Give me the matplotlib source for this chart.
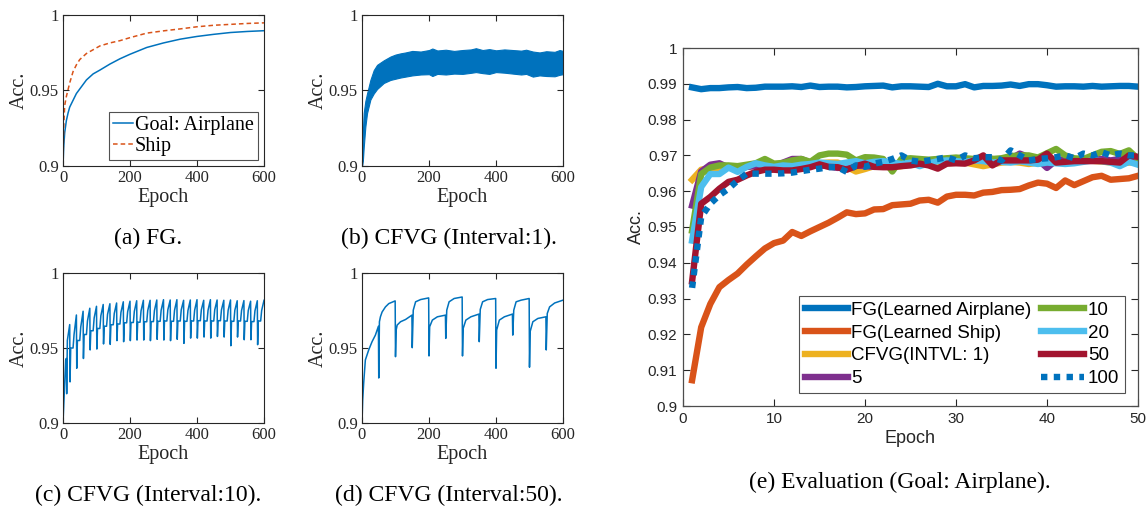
import matplotlib
matplotlib.use("Agg")
import matplotlib.pyplot as plt

# ---------------- data ----------------
# (a) FG: accuracy for goal airplane / ship
a_epoch = [0, 2, 5, 10, 15, 20, 30, 40, 50, 70, 90, 110, 140, 170, 200, 250, 300, 350, 400, 450, 500, 550, 600]
a_airplane = [0.900, 0.912, 0.922, 0.930, 0.935, 0.939, 0.9435, 0.948, 0.951, 0.957, 0.961, 0.9635, 0.9675,
              0.971, 0.974, 0.9785, 0.9815, 0.984, 0.9858, 0.9872, 0.9884, 0.9891, 0.9896]
a_ship = [0.900, 0.925, 0.940, 0.946, 0.9505, 0.955, 0.9625, 0.967, 0.9705, 0.9745, 0.977, 0.9795, 0.9815,
          0.983, 0.985, 0.988, 0.9895, 0.9908, 0.9922, 0.9932, 0.9938, 0.9944, 0.9948]

# (b) CFVG interval 1: upper / lower envelope of the noisy band
b_epoch = [0, 3, 5, 10, 15, 25, 35, 45, 65, 85, 100, 115, 130, 150, 175, 200, 210, 225, 250, 275,
           300, 325, 340, 360, 380, 400, 425, 450, 475, 490, 510, 530, 550, 575, 590, 600]
b_upper = [0.900, 0.925, 0.935, 0.943, 0.948, 0.957, 0.9635, 0.967, 0.970, 0.9725, 0.9738, 0.9746,
           0.9752, 0.9762, 0.9758, 0.9768, 0.9778, 0.9765, 0.9770, 0.9762, 0.9768, 0.9772, 0.9780,
           0.9768, 0.9774, 0.9766, 0.9772, 0.9768, 0.9764, 0.9770, 0.9758, 0.9752, 0.9760, 0.9756,
           0.9768, 0.9762]
b_lower = [0.900, 0.905, 0.912, 0.926, 0.935, 0.944, 0.948, 0.951, 0.955, 0.957, 0.9578, 0.9586,
           0.9592, 0.9600, 0.9606, 0.9608, 0.9596, 0.9610, 0.9606, 0.9612, 0.9610, 0.9617, 0.9622,
           0.9615, 0.9610, 0.9622, 0.9618, 0.9612, 0.9606, 0.9610, 0.9592, 0.9600, 0.9596, 0.9594,
           0.9604, 0.9608]

# (c) CFVG interval 10: first epochs, then per 20-epoch cycle values
c_start_epoch = [0, 8, 10, 11, 13]
c_start_acc = [0.900, 0.942, 0.943, 0.9195, 0.955]
c_peak = [0.9656, 0.9720, 0.9745, 0.9765, 0.9778, 0.9790, 0.9795, 0.9800, 0.9808, 0.9812,
          0.9815, 0.9818, 0.9818, 0.9820, 0.9822, 0.9820, 0.9822, 0.9818, 0.9820, 0.9822,
          0.9818, 0.9822, 0.9820, 0.9818, 0.9820, 0.9815, 0.9816, 0.9812, 0.9815, 0.9818]
c_dip = [0.9274, 0.9365, 0.9430, 0.9487, 0.9493, 0.9527, 0.9524, 0.9549, 0.9542, 0.9549,
         0.9553, 0.9553, 0.9549, 0.9558, 0.9553, 0.9549, 0.9558, 0.9531, 0.9566, 0.9566,
         0.9573, 0.9566, 0.9577, 0.9573, 0.9515, 0.9573, 0.9555, 0.9555, 0.9522]
c_plat = [0.9500, 0.9550, 0.9590, 0.9615, 0.9630, 0.9645, 0.9655, 0.9660, 0.9668, 0.9670,
          0.9672, 0.9675, 0.9676, 0.9678, 0.9680, 0.9678, 0.9680, 0.9678, 0.9680, 0.9682,
          0.9680, 0.9680, 0.9682, 0.9680, 0.9678, 0.9680, 0.9678, 0.9676, 0.9680]
c_rise = [0.9590, 0.9640, 0.9680, 0.9700, 0.9715, 0.9725, 0.9730, 0.9738, 0.9742, 0.9745,
          0.9748, 0.9750, 0.9750, 0.9752, 0.9755, 0.9752, 0.9755, 0.9750, 0.9752, 0.9755,
          0.9752, 0.9755, 0.9754, 0.9752, 0.9752, 0.9750, 0.9750, 0.9748, 0.9750]

# (d) CFVG interval 50: key points
d_epoch = [0, 2, 5, 10, 20, 30, 40, 49, 50, 52, 55, 60, 70, 80, 99, 100, 102, 105, 115, 130, 149,
           150, 153, 160, 175, 199, 200, 202, 210, 225, 249, 250, 253, 260, 275, 299, 300, 302, 310,
           325, 349, 350, 353, 360, 375, 399, 400, 402, 410, 425, 449, 450, 453, 460, 475, 499, 500,
           502, 510, 525, 549, 550, 553, 560, 575, 600]
d_acc = [0.900, 0.915, 0.9265, 0.942, 0.9487, 0.9542, 0.9586, 0.9645, 0.930, 0.9675, 0.9708, 0.974,
         0.9774, 0.9796, 0.9814, 0.9442, 0.962, 0.9653, 0.9675, 0.969, 0.9719, 0.9502, 0.9752, 0.9808,
         0.9823, 0.9834, 0.9447, 0.9642, 0.9686, 0.9708, 0.9719, 0.9564, 0.9752, 0.9808, 0.983, 0.984,
         0.9447, 0.963, 0.9686, 0.9708, 0.9726, 0.9542, 0.9757, 0.9808, 0.9823, 0.983, 0.9365, 0.962,
         0.9686, 0.9708, 0.9726, 0.9586, 0.9752, 0.9808, 0.9819, 0.983, 0.9372, 0.961, 0.9675, 0.9697,
         0.9708, 0.9487, 0.973, 0.9774, 0.980, 0.9819]

# (e) evaluation, epochs 1..50
e_epoch = list(range(1, 51))
e_fg_airplane = [0.9890, 0.9885, 0.9888, 0.9888, 0.9890, 0.9891, 0.9888, 0.9889, 0.9892, 0.9892,
                 0.9892, 0.9893, 0.9891, 0.9895, 0.9891, 0.9892, 0.9892, 0.9890, 0.9891, 0.9893,
                 0.9894, 0.9895, 0.9890, 0.9893, 0.9893, 0.9892, 0.9891, 0.9900, 0.9893, 0.9893,
                 0.9899, 0.9890, 0.9894, 0.9894, 0.9895, 0.9898, 0.9894, 0.9899, 0.9899, 0.9896,
                 0.9892, 0.9893, 0.9893, 0.9892, 0.9894, 0.9892, 0.9893, 0.9894, 0.9894, 0.9892]
e_fg_ship = [0.9072, 0.9220, 0.9285, 0.9332, 0.9352, 0.9370, 0.9395, 0.9418, 0.9440, 0.9455,
             0.9462, 0.9486, 0.9475, 0.9488, 0.9500, 0.9512, 0.9526, 0.9541, 0.9536, 0.9538,
             0.9549, 0.9550, 0.9561, 0.9563, 0.9565, 0.9574, 0.9576, 0.9568, 0.9585, 0.9590,
             0.9590, 0.9588, 0.9596, 0.9598, 0.9603, 0.9604, 0.9606, 0.9616, 0.9624, 0.9621,
             0.9609, 0.9630, 0.9617, 0.9628, 0.9639, 0.9643, 0.9632, 0.9634, 0.9636, 0.9643]
e_int1 = [0.9632, 0.9660, 0.9665, 0.9665, 0.9668, 0.9665, 0.9668, 0.9672, 0.9672, 0.9668,
          0.9672, 0.9675, 0.9675, 0.9678, 0.9678, 0.9680, 0.9680, 0.9668, 0.9655, 0.9662,
          0.9670, 0.9672, 0.9668, 0.9670, 0.9675, 0.9676, 0.9678, 0.9675, 0.9678, 0.9680,
          0.9680, 0.9675, 0.9670, 0.9675, 0.9680, 0.9682, 0.9680, 0.9676, 0.9680, 0.9683,
          0.9680, 0.9682, 0.9683, 0.9685, 0.9685, 0.9683, 0.9680, 0.9678, 0.9680, 0.9682]
e_int5 = [0.9560, 0.9655, 0.9674, 0.9678, 0.9666, 0.9664, 0.9668, 0.9670, 0.9672, 0.9670,
          0.9680, 0.9690, 0.9690, 0.9680, 0.9672, 0.9670, 0.9665, 0.9668, 0.9672, 0.9670,
          0.9668, 0.9672, 0.9676, 0.9678, 0.9680, 0.9684, 0.9686, 0.9688, 0.9690, 0.9686,
          0.9684, 0.9690, 0.9695, 0.9690, 0.9686, 0.9690, 0.9705, 0.9695, 0.9688, 0.9665,
          0.9686, 0.9690, 0.9686, 0.9684, 0.9688, 0.9690, 0.9686, 0.9690, 0.9694, 0.9690]
e_int10 = [0.9490, 0.9648, 0.9666, 0.9672, 0.9672, 0.9670, 0.9674, 0.9678, 0.9690, 0.9677,
           0.9679, 0.9686, 0.9690, 0.9682, 0.9700, 0.9705, 0.9705, 0.9702, 0.9686, 0.9695,
           0.9694, 0.9690, 0.9655, 0.9690, 0.9692, 0.9690, 0.9688, 0.9690, 0.9692, 0.9694,
           0.9692, 0.9690, 0.9694, 0.9690, 0.9692, 0.9698, 0.9700, 0.9700, 0.9694, 0.9706,
           0.9718, 0.9700, 0.9692, 0.9690, 0.9700, 0.9710, 0.9712, 0.9704, 0.9714, 0.9690]
e_int20 = [0.9462, 0.9612, 0.9648, 0.9648, 0.9666, 0.9654, 0.9668, 0.9678, 0.9672, 0.9668,
           0.9672, 0.9670, 0.9674, 0.9676, 0.9680, 0.9678, 0.9676, 0.9680, 0.9684, 0.9678,
           0.9682, 0.9684, 0.9680, 0.9676, 0.9680, 0.9670, 0.9678, 0.9684, 0.9686, 0.9684,
           0.9682, 0.9686, 0.9684, 0.9680, 0.9682, 0.9680, 0.9684, 0.9680, 0.9676, 0.9680,
           0.9678, 0.9676, 0.9678, 0.9682, 0.9686, 0.9684, 0.9680, 0.9670, 0.9682, 0.9674]
e_int50 = [0.9348, 0.9565, 0.9584, 0.9607, 0.9626, 0.9632, 0.9644, 0.9654, 0.9660, 0.9660,
           0.9658, 0.9658, 0.9662, 0.9667, 0.9675, 0.9668, 0.9667, 0.9660, 0.9670, 0.9677,
           0.9668, 0.9667, 0.9667, 0.9670, 0.9672, 0.9677, 0.9672, 0.9663, 0.9677, 0.9678,
           0.9677, 0.9686, 0.9700, 0.9672, 0.9686, 0.9686, 0.9686, 0.9686, 0.9688, 0.9705,
           0.9680, 0.9682, 0.9684, 0.9684, 0.9684, 0.9684, 0.9682, 0.9680, 0.9700, 0.9696]
e_int100 = [0.9330, 0.9528, 0.9565, 0.9589, 0.9607, 0.9630, 0.9649, 0.9649, 0.9649, 0.9649,
            0.9650, 0.9652, 0.9656, 0.9660, 0.9663, 0.9667, 0.9667, 0.9654, 0.9672, 0.9668,
            0.9677, 0.9682, 0.9690, 0.9700, 0.9686, 0.9682, 0.9686, 0.9690, 0.9695, 0.9686,
            0.9700, 0.9692, 0.9695, 0.9695, 0.9686, 0.9714, 0.9700, 0.9686, 0.9690, 0.9692,
            0.9695, 0.9700, 0.9692, 0.9705, 0.9700, 0.9709, 0.9700, 0.9705, 0.9700, 0.9700]

# ---------------- style ----------------
BLUE = "#0072BD"
ORANGE = "#D95319"
YELLOW = "#EDB120"
PURPLE = "#7E2F8E"
GREEN = "#77AC30"
LBLUE = "#4DBEEE"
DRED = "#A2142F"
SERIF = ["Liberation Serif", "DejaVu Serif"]
SANS = ["Liberation Sans", "DejaVu Sans"]

fig = plt.figure(figsize=(11.47, 5.14), dpi=100)
W, H = 1147.0, 514.0


def box(x0, y0, x1, y1):
    return [x0 / W, 1 - y1 / H, (x1 - x0) / W, (y1 - y0) / H]


def small_axes(rect):
    ax = fig.add_axes(rect)
    ax.set_xlim(0, 600)
    ax.set_ylim(0.9, 1.0)
    ax.set_xticks([0, 200, 400, 600])
    ax.set_yticks([0.9, 0.95, 1.0])
    ax.set_yticklabels(["0.9", "0.95", "1"])
    ax.tick_params(direction="in", top=True, right=True, length=4, width=0.8,
                   labelsize=12, colors="#262626", pad=3)
    for lab in ax.get_xticklabels() + ax.get_yticklabels():
        lab.set_family(SERIF)
    for s in ax.spines.values():
        s.set_color("#262626")
        s.set_linewidth(0.8)
    ax.set_xlabel("Epoch", family=SERIF, fontsize=14.5, color="#262626", labelpad=1)
    ax.set_ylabel("Acc.", family=SERIF, fontsize=14.5, color="#262626", labelpad=1)
    return ax


# (a)
ax = small_axes(box(63, 15, 264, 166))
ax.plot(a_epoch, a_airplane, color=BLUE, lw=1.1, label="Goal: Airplane")
ax.plot(a_epoch, a_ship, color=ORANGE, lw=1.1, ls=(0, (3, 2)), label="Ship")
leg = ax.legend(loc="lower right", prop={"family": SERIF, "size": 14.5}, frameon=True, fancybox=False,
                edgecolor="#262626", handlelength=1.0, handletextpad=0.1, borderpad=0.2,
                labelspacing=0.1, borderaxespad=0.3)
leg.get_frame().set_linewidth(0.8)

# (b)
ax = small_axes(box(362, 15, 563, 166))
ax.fill_between(b_epoch, b_lower, b_upper, color=BLUE, lw=0.8, edgecolor=BLUE)

# (c)
ax = small_axes(box(63, 273, 264, 423))
c_ep = list(c_start_epoch) + [20]
c_val = list(c_start_acc) + [c_peak[0]]
for k in range(len(c_dip)):
    t = 20 + 20 * k
    c_ep += [t + 1, t + 3, t + 10, t + 13, t + 20]
    c_val += [c_dip[k], c_plat[k], c_plat[k], c_rise[k], c_peak[k + 1]]
ax.plot(c_ep, c_val, color=BLUE, lw=1.1)

# (d)
ax = small_axes(box(362, 273, 563, 423))
ax.plot(d_epoch, d_acc, color=BLUE, lw=1.1)

# (e)
ax = fig.add_axes(box(683, 48, 1138, 406))
lw = 4.6
ax.plot(e_epoch, e_fg_airplane, color=BLUE, lw=lw, label="FG(Learned Airplane)")
ax.plot(e_epoch, e_fg_ship, color=ORANGE, lw=lw, label="FG(Learned Ship)")
ax.plot(e_epoch, e_int1, color=YELLOW, lw=lw, label="CFVG(INTVL: 1)")
ax.plot(e_epoch, e_int5, color=PURPLE, lw=lw, label="5")
ax.plot(e_epoch, e_int10, color=GREEN, lw=lw, label="10")
ax.plot(e_epoch, e_int20, color=LBLUE, lw=lw, label="20")
ax.plot(e_epoch, e_int50, color=DRED, lw=lw, label="50")
ax.plot(e_epoch, e_int100, color=BLUE, lw=lw, ls=(0, (1, 1)), dash_capstyle="butt", label="100")
ax.set_xlim(0, 50)
ax.set_ylim(0.9, 1.0)
ax.set_xticks(range(0, 51, 10))
yt = [0.9 + 0.01 * i for i in range(11)]
ax.set_yticks(yt)
ax.set_yticklabels(["0.9", "0.91", "0.92", "0.93", "0.94", "0.95", "0.96", "0.97", "0.98", "0.99", "1"])
ax.tick_params(direction="in", top=True, right=True, length=5, width=0.8,
               labelsize=11, colors="#262626", pad=4)
for lab in ax.get_xticklabels() + ax.get_yticklabels():
    lab.set_family(SANS)
for s in ax.spines.values():
    s.set_color("#4d4d4d")
    s.set_linewidth(0.9)
ax.set_xlabel("Epoch", family=SANS, fontsize=13, color="#262626", labelpad=3)
ax.set_ylabel("Acc.", family=SANS, fontsize=13, color="#262626", labelpad=2)
leg = ax.legend(loc="lower right", ncol=2, prop={"family": SANS, "size": 13.5}, frameon=True,
                fancybox=False, edgecolor="#262626", handlelength=2.3, handletextpad=0.2,
                borderpad=0.3, labelspacing=0.3, columnspacing=0.5, borderaxespad=0.7)
leg.get_frame().set_linewidth(0.8)

# captions
cap = dict(family=SERIF, fontsize=17, ha="center", va="center", color="black")
fig.text(148 / W, 1 - 238 / H, "(a) FG.", **cap)
fig.text(449 / W, 1 - 238 / H, "(b) CFVG (Interval:1).", **cap)
fig.text(148 / W, 1 - 495 / H, "(c) CFVG (Interval:10).", **cap)
fig.text(449 / W, 1 - 495 / H, "(d) CFVG (Interval:50).", **cap)
fig.text(900 / W, 1 - 482 / H, "(e) Evaluation (Goal: Airplane).", **cap)

fig.savefig("out.png", dpi=100)
